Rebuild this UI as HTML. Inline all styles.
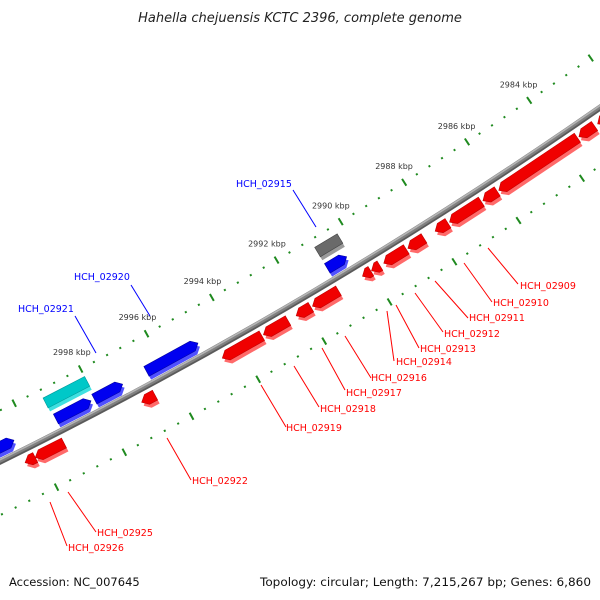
<!DOCTYPE html>
<html><head><meta charset="utf-8"><style>
html,body{margin:0;padding:0;background:#fff;}
svg{display:block;}
text{font-family:"DejaVu Sans","Liberation Sans",sans-serif;}
</style></head>
<body>
<svg id="map" width="600" height="600" viewBox="0 0 600 600" xmlns="http://www.w3.org/2000/svg">
<rect width="600" height="600" fill="#fff"/>
<text x="300" y="22" text-anchor="middle" font-size="13" font-style="italic" fill="#222">Hahella chejuensis KCTC 2396, complete genome</text>
<g id="ticks"></g>
<g id="backbone"></g>
<g id="genes"></g>
<g id="labels"></g>
<text x="9" y="586" font-size="11.5" fill="#111">Accession: NC_007645</text>
<text x="260" y="586" font-size="11.5" fill="#111" textLength="331" lengthAdjust="spacingAndGlyphs">Topology: circular; Length: 7,215,267 bp; Genes: 6,860</text>
</svg>
<script>
// ---- data ----
const majorTicksKbp = [2984,2986,2988,2990,2992,2994,2996,2998];
const majorTickLabels = ["2984 kbp","2986 kbp","2988 kbp","2990 kbp","2992 kbp","2994 kbp","2996 kbp","2998 kbp"];
const reverseGeneStarts = [2981.5,2982.95,2983.5,2986.05,2986.55,2987.6,2988.35,2988.9,2989.72,2990.0,2991.0,2991.85,2992.55,2993.35,2996.58,2999.3,3000.15];
const reverseGeneEnds   = [2982.85,2983.45,2986.0,2986.5,2987.55,2988.0,2988.85,2989.6,2989.98,2990.26,2991.8,2992.3,2993.3,2994.55,2996.98,3000.15,3000.45];
const forwardGeneStarts = [2990.35,2994.92,2997.2,2998.15,3000.45];
const forwardGeneEnds   = [2990.95,2996.48,2998.05,2999.2,3001.8];
const otherGeneStarts = [2990.25,2998.0];
const otherGeneEnds   = [2990.95,2999.25];
const otherGeneColors = ["gray","cyan"];
const labelNames = ["HCH_02909","HCH_02910","HCH_02911","HCH_02912","HCH_02913","HCH_02914","HCH_02916","HCH_02917","HCH_02918","HCH_02919","HCH_02922","HCH_02925","HCH_02926","HCH_02915","HCH_02920","HCH_02921"];
const labelStrand = ["r","r","r","r","r","r","r","r","r","r","r","r","r","f","f","f"];

// ---- geometry (axis functions) ----
const CX=-2082, CY=-3752;
const R_LINE=4700, R_UP=4654, R_LOW=4748, R_FWD=4687, R_REV=4712, R_OTHER=4668;
function ang(k){ return (58.63 + (k-2990)*0.46)*Math.PI/180; }
function P(k,r){ const a=ang(k); return [CX + r*Math.cos(a), CY + r*Math.sin(a)]; }
const NS="http://www.w3.org/2000/svg";
function mk(tag, parent, attrs){ const e=document.createElementNS(NS,tag); for(const k in attrs) e.setAttribute(k,attrs[k]); parent.appendChild(e); return e; }
function ptsStr(a){ return a.map(p=>p[0].toFixed(2)+","+p[1].toFixed(2)).join(" "); }

// ---- ticks ----
const gT=document.getElementById('ticks');
const green="#1f8a1f";
[R_UP,R_LOW].forEach(function(r){
  for(let i=0;i<=60;i++){
    const k=2978+i*0.4;
    const isMajor = Math.abs(k/2-Math.round(k/2))<1e-6;
    const len = isMajor?4:1;
    const a=P(k,r-len), b=P(k,r+len);
    const t=mk('line',gT,{x1:a[0],y1:a[1],x2:b[0],y2:b[1],stroke:green,'stroke-width':2});
    
    
  }
});
majorTicksKbp.forEach(function(k,i){
  const p=P(k,R_UP-19);
  const t=mk('text',gT,{x:p[0],y:p[1]+3,'text-anchor':'middle','font-size':8,fill:'#333'});
  t.textContent=majorTickLabels[i];
  
  
});

// ---- backbone ----
const gB=document.getElementById('backbone');
function arc(r,k0,k1){ const a=P(k0,r), b=P(k1,r); return "M"+a[0]+","+a[1]+" A"+r+","+r+" 0 0 0 "+b[0]+","+b[1]; }
[[R_LINE,"#808080",6],[R_LINE-1.8,"#b5b5b5",1.6],[R_LINE+2,"#5a5a5a",1.6]].forEach(function(s){
  const e=mk('path',gB,{d:arc(s[0],3004,2976),fill:'none',stroke:s[1],'stroke-width':s[2]});
  
  
});

// ---- genes ----
const gG=document.getElementById('genes');
const HEAD=0.16, HALF=5.5;
function genePts(ks,ke,r,dir){
  if(dir===0) return [P(ks,r-HALF),P(ke,r-HALF),P(ke,r+HALF),P(ks,r+HALF)];
  if(dir>0){
    const h=Math.min(HEAD,(ke-ks)); const m=ke-h;
    if(m<=ks+0.001) return [P(ks,r-HALF),P(ke,r),P(ks,r+HALF)];
    return [P(ks,r-HALF),P(m,r-HALF),P(ke,r),P(m,r+HALF),P(ks,r+HALF)];
  } else {
    const h=Math.min(HEAD,(ke-ks)); const m=ks+h;
    if(m>=ke-0.001) return [P(ke,r-HALF),P(ks,r),P(ke,r+HALF)];
    return [P(ke,r-HALF),P(m,r-HALF),P(ks,r),P(m,r+HALF),P(ke,r+HALF)];
  }
}
function drawGene(ks,ke,r,dir,main,light,dark,name){
  const pts=genePts(ks,ke,r,dir);
  const sh=pts.map(p=>[p[0]+2,p[1]+3.5]);
  const s=mk('polygon',gG,{points:ptsStr(sh),fill:light});
  
  
  const m=mk('polygon',gG,{points:ptsStr(pts),fill:main,stroke:dark,'stroke-width':0.6});
  
  
}
reverseGeneStarts.forEach(function(s,i){ drawGene(s,reverseGeneEnds[i],R_REV,1,"#f00000","#ff6a6a","#c00000","reverse-gene"); });
forwardGeneStarts.forEach(function(s,i){ drawGene(s,forwardGeneEnds[i],R_FWD,-1,"#0000f0","#5050ff","#0000a0","forward-gene"); });
otherGeneStarts.forEach(function(s,i){
  const c=otherGeneColors[i];
  if(c==="cyan") drawGene(s,otherGeneEnds[i],R_OTHER,0,"#00c8c8","#40e0e0","#009a9a","cyan-feature");
  else drawGene(s,otherGeneEnds[i],R_OTHER,0,"#6a6a6a","#9a9a9a","#444","gray-feature");
});

// ---- labels (annotation placement) ----
const labelText = [[520,289],[493,306],[469,321],[444,337],[420,352],[396,365],[371,381],[346,396],[320,412],[286,431],[192,484],[97,536],[68,551],[236,187],[74,280],[18,312]];
const labelLine = [[488,248,518,284],[464,263,492,302],[435,281,468,318],[415,293,443,332],[396,305,419,348],[387,311,394,361],[345,336,371,378],[322,348,345,390],[294,366,319,407],[261,385,286,427],[167,438,191,480],[68,492,96,532],[50,502,67,546],[293,190,316,227],[131,285,150,316],[75,316,96,353]];
const gL=document.getElementById('labels');
labelNames.forEach(function(n,i){
  const col = labelStrand[i]==="r" ? "#ff0000" : "#0000ff";
  const L=labelLine[i];
  const ln=mk('line',gL,{x1:L[0],y1:L[1],x2:L[2],y2:L[3],stroke:col,'stroke-width':1});
  
  
  const t=mk('text',gL,{x:labelText[i][0],y:labelText[i][1],'font-size':9.5,fill:col});
  t.textContent=n;
  
  
});
</script>
</body></html>
